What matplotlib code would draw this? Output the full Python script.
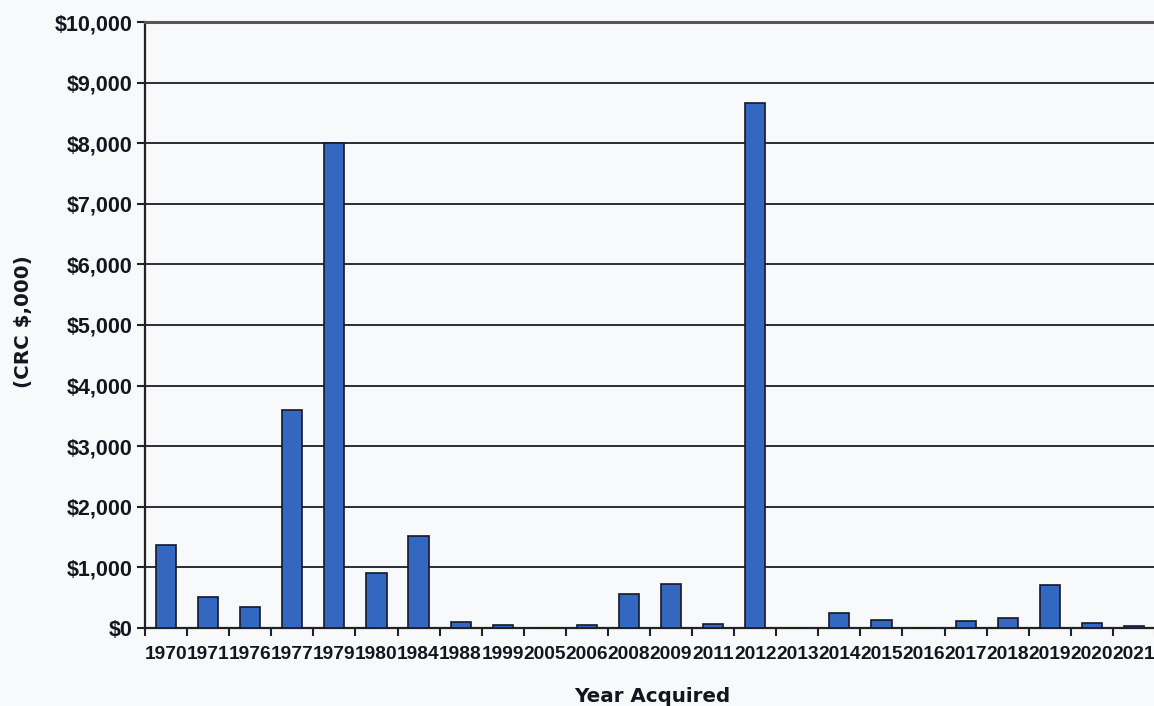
import matplotlib
matplotlib.use("Agg")
import matplotlib.pyplot as plt
import numpy as np
from matplotlib.ticker import FuncFormatter, FixedLocator

# Acquisition cost by year (CRC thousands)
years = ["1970", "1971", "1976", "1977", "1979", "1980", "1984", "1988",
         "1999", "2005", "2006", "2008", "2009", "2011", "2012", "2013",
         "2014", "2015", "2016", "2017", "2018", "2019", "2020", "2021"]
values = [1370, 510, 350, 3600, 8000, 900, 1520, 100,
          50, 0, 50, 560, 730, 60, 8660, 0,
          250, 130, 0, 110, 165, 710, 80, 40]
y_ticks = [0, 1000, 2000, 3000, 4000, 5000, 6000, 7000, 8000, 9000, 10000]

bg = "#f8f9fb"
fig = plt.figure(figsize=(11.54, 7.06), dpi=100, facecolor=bg)
ax = fig.add_axes([145 / 1154, 1 - 628 / 706, 1010 / 1154, 606 / 706])
ax.set_facecolor(bg)

x = np.arange(len(years))
ax.bar(x, values, width=0.48, color="#3468c0", edgecolor="#15182a",
       linewidth=1.2, zorder=3)

ax.set_xlim(-0.5, len(years) - 0.5)
ax.set_ylim(0, 10000)

ax.yaxis.set_major_locator(FixedLocator(y_ticks))
ax.yaxis.set_major_formatter(FuncFormatter(lambda v, p: f"${v:,.0f}"))
ax.grid(axis="y", color="#1c1c24", linewidth=1.3, zorder=1)

# category labels centred, tick marks on category boundaries
ax.set_xticks(x)
ax.set_xticklabels(years, fontsize=13.8, family="Liberation Sans",
                   fontweight="bold", color="#15151f")
ax.set_xticks(np.arange(len(years) + 1) - 0.5, minor=True)
ax.tick_params(axis="x", which="major", length=0, pad=13)
ax.tick_params(axis="x", which="minor", length=6, width=1.5,
               color="#222222", direction="out")
ax.tick_params(axis="y", length=6, width=1.5, color="#222222",
               labelsize=15.5, pad=3, labelcolor="#15151f")
for lab in ax.get_yticklabels():
    lab.set_family("Liberation Sans")
    lab.set_fontweight("bold")

for side in ["top", "left", "bottom"]:
    ax.spines[side].set_linewidth(1.6)
ax.spines["top"].set_color("#555555")
ax.spines["top"].set_linewidth(2.2)
ax.spines["left"].set_color("#222222")
ax.spines["bottom"].set_color("#222222")
ax.spines["right"].set_visible(False)

fig.text(652 / 1154, 1 - 696 / 706, "Year Acquired", ha="center",
         va="center", fontsize=14.3, fontweight="bold",
         family="DejaVu Sans", color="#15151f")
fig.text(24 / 1154, 1 - 322 / 706, "(CRC $,000)", ha="center",
         va="center", rotation=90, fontsize=14.3, fontweight="bold",
         family="DejaVu Sans", color="#15151f")

fig.savefig("out.png", dpi=100, facecolor=bg)
